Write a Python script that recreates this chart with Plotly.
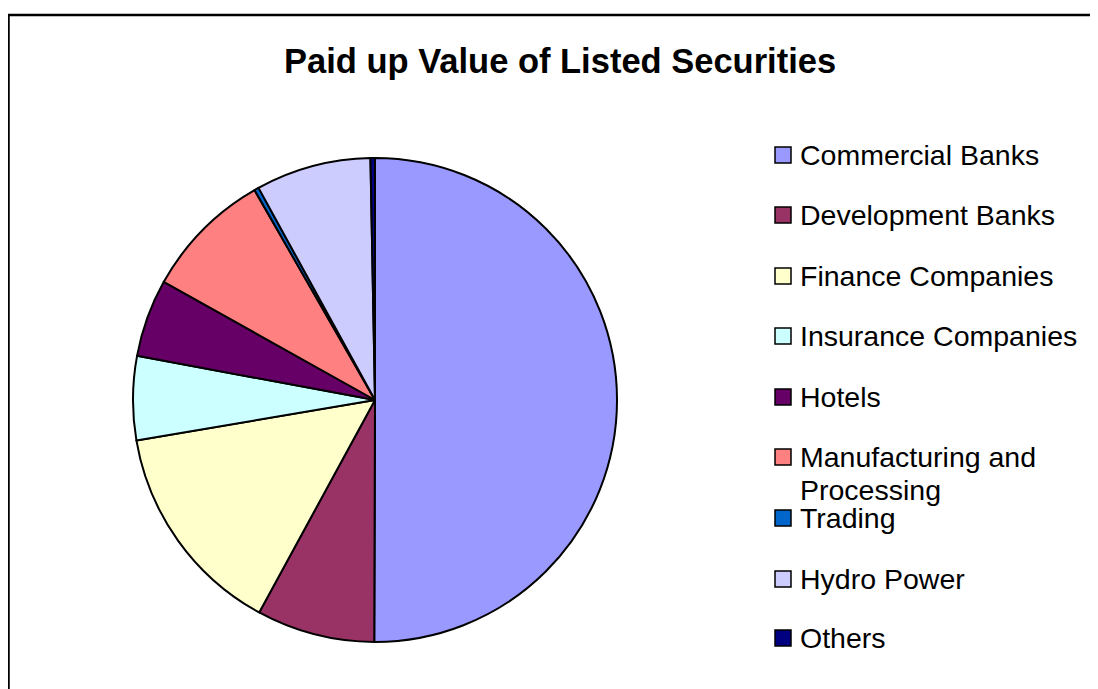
import plotly.graph_objects as go

W, H = 1098, 689
OFF = 8  # browser body margin

labels = ["Commercial Banks", "Development Banks", "Finance Companies",
          "Insurance Companies", "Hotels", "Manufacturing and Processing",
          "Trading", "Hydro Power", "Others"]
values = [50.1, 7.9, 14.4, 5.6, 5.2, 8.6, 0.3, 7.7, 0.3]
colors = ["#9999FF", "#993366", "#FFFFCC", "#CCFFFF", "#660066",
          "#FF8080", "#0066CC", "#CCCCFF", "#000080"]
legend_lines = [["Commercial Banks"], ["Development Banks"], ["Finance Companies"],
                ["Insurance Companies"], ["Hotels"], ["Manufacturing and", "Processing"],
                ["Trading"], ["Hydro Power"], ["Others"]]
legend_y = [155, 215, 276, 336, 397, 457, 518, 579, 638]
line_gap = 33

def px(x):
    return (x - OFF) / W

def py(y):
    return 1 - (y - OFF) / H

fig = go.Figure(go.Pie(
    labels=labels, values=values, sort=False, direction="clockwise",
    rotation=0, textinfo="none", hoverinfo="label+percent",
    marker=dict(colors=colors, line=dict(color="black", width=2)),
    domain=dict(x=[px(133), px(617)], y=[py(642), py(158)]),
    showlegend=False,
))

shapes = [dict(type="rect", xref="paper", yref="paper",
               x0=px(8.5), x1=1.05, y0=-0.05, y1=py(15),
               line=dict(color="black", width=2.5), fillcolor="rgba(0,0,0,0)")]
annotations = [dict(text="<b>Paid up Value of Listed Securities</b>",
                    xref="paper", yref="paper", x=px(560), y=py(61),
                    xanchor="center", yanchor="middle", showarrow=False,
                    font=dict(family="Arial, Liberation Sans", size=34.5, color="black"))]

for lines, col, yc in zip(legend_lines, colors, legend_y):
    shapes.append(dict(type="rect", xref="paper", yref="paper",
                       x0=px(775), x1=px(791), y0=py(yc + 8), y1=py(yc - 8),
                       fillcolor=col, line=dict(color="black", width=1.5)))
    for i, txt in enumerate(lines):
        annotations.append(dict(text=txt, xref="paper", yref="paper",
                                x=px(798), y=py(yc + i * line_gap), xanchor="left",
                                yanchor="middle", align="left", showarrow=False,
                                font=dict(family="Arial, Liberation Sans", size=28.5,
                                          color="black")))

fig.update_layout(
    width=W, height=H, margin=dict(l=0, r=0, t=0, b=0),
    paper_bgcolor="white", plot_bgcolor="white",
    shapes=shapes, annotations=annotations,
)

fig.write_html("out.html")
